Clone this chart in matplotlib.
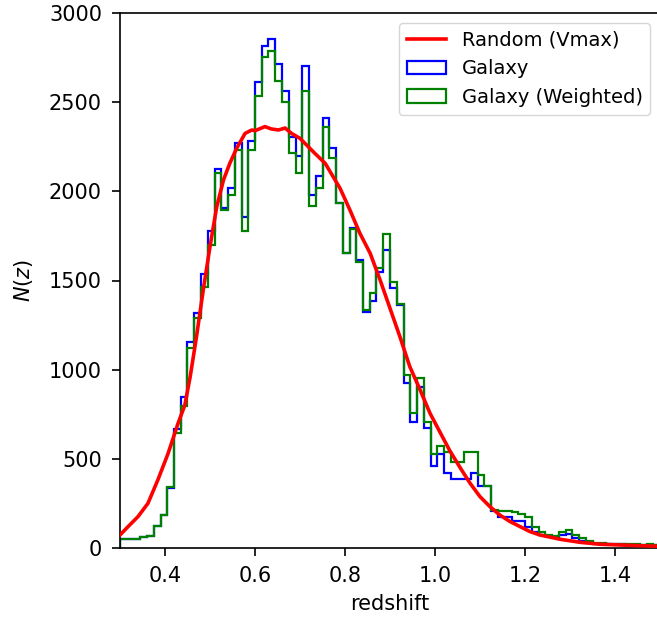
import numpy as np
import matplotlib
matplotlib.use("Agg")
import matplotlib.pyplot as plt

# redshift bins: 80 bins of 0.015 from 0.3 to 1.5
z_min = 0.3
z_max = 1.5
n_bins = 80

# galaxy counts per bin
galaxy = [49, 49, 50, 62, 70, 123, 185, 335, 665, 847,
          1157, 1316, 1537, 1779, 2126, 1906, 2020, 2271, 1857, 2283,
          2615, 2816, 2857, 2716, 2563, 2304, 2197, 2702, 1982, 2084,
          2410, 2241, 1933, 1652, 1793, 1615, 1325, 1385, 1550, 1673,
          1460, 1360, 925, 705, 905, 671, 462, 525, 420, 385,
          385, 385, 420, 345, 345, 205, 175, 175, 150, 150,
          120, 90, 75, 65, 60, 75, 80, 55, 40, 35,
          25, 25, 22, 20, 20, 18, 18, 15, 15, 15]

galaxy_w = [49, 49, 50, 60, 67, 123, 185, 344, 643, 794,
            1120, 1288, 1462, 1699, 2101, 1893, 1978, 2231, 1780, 2229,
            2533, 2755, 2787, 2620, 2499, 2215, 2102, 2564, 1920, 2020,
            2363, 2185, 1933, 1652, 1787, 1606, 1335, 1428, 1572, 1763,
            1493, 1368, 970, 759, 953, 708, 525, 570, 540, 485,
            485, 540, 540, 410, 345, 215, 210, 205, 200, 190,
            176, 120, 90, 75, 70, 90, 100, 75, 55, 40,
            30, 28, 25, 22, 22, 20, 20, 18, 20, 18]

# random catalogue (Vmax) curve
rand_z = [0.300, 0.318, 0.340, 0.362, 0.384, 0.407, 0.429, 0.444, 0.456, 0.470,
          0.485, 0.500, 0.515, 0.530, 0.544, 0.559, 0.578, 0.593, 0.600, 0.622,
          0.636, 0.652, 0.667, 0.681, 0.700, 0.711, 0.733, 0.756, 0.767, 0.789,
          0.811, 0.833, 0.856, 0.878, 0.900, 0.922, 0.944, 0.967, 0.989, 1.011,
          1.033, 1.056, 1.078, 1.100, 1.122, 1.144, 1.167, 1.189, 1.211, 1.233,
          1.278, 1.322, 1.367, 1.411, 1.478, 1.500]
rand_n = [73, 120, 176, 250, 381, 531, 699, 800, 961, 1185,
          1447, 1690, 1914, 2064, 2157, 2240, 2325, 2344, 2340, 2363,
          2350, 2344, 2355, 2325, 2297, 2269, 2213, 2157, 2110, 2017,
          1895, 1765, 1652, 1503, 1344, 1185, 1017, 886, 755, 650,
          545, 450, 363, 288, 232, 185, 148, 120, 92, 73,
          49, 32, 21, 17, 11, 10]

edges = np.linspace(z_min, z_max, n_bins + 1)
centres = 0.5 * (edges[:-1] + edges[1:])

fig = plt.figure(figsize=(6.57, 6.27), dpi=100)
ax = fig.add_axes([120 / 657, 79 / 627, 540 / 657, 535 / 627])

ax.plot(rand_z, rand_n, color='red', lw=2.6, label='Random (Vmax)', zorder=3)
ax.hist(centres, bins=edges, weights=galaxy, histtype='step', color='blue',
        lw=1.6, label='Galaxy')
ax.hist(centres, bins=edges, weights=galaxy_w, histtype='step', color='green',
        lw=1.6, label='Galaxy (Weighted)')

ax.set_xlim(z_min, z_max)
ax.set_ylim(0, 3000)
ax.set_xticks([0.4, 0.6, 0.8, 1.0, 1.2, 1.4])
ax.set_yticks(np.arange(0, 3001, 500))
ax.tick_params(labelsize=15, length=6, width=1.2, pad=7)
for sp in ax.spines.values():
    sp.set_linewidth(1.2)
ax.set_xlabel("redshift", fontsize=15, labelpad=6)
ax.set_ylabel("$N(z)$", fontsize=15, labelpad=10)
ax.legend(loc='upper right', fontsize=14)

fig.savefig("out.png", dpi=100)
